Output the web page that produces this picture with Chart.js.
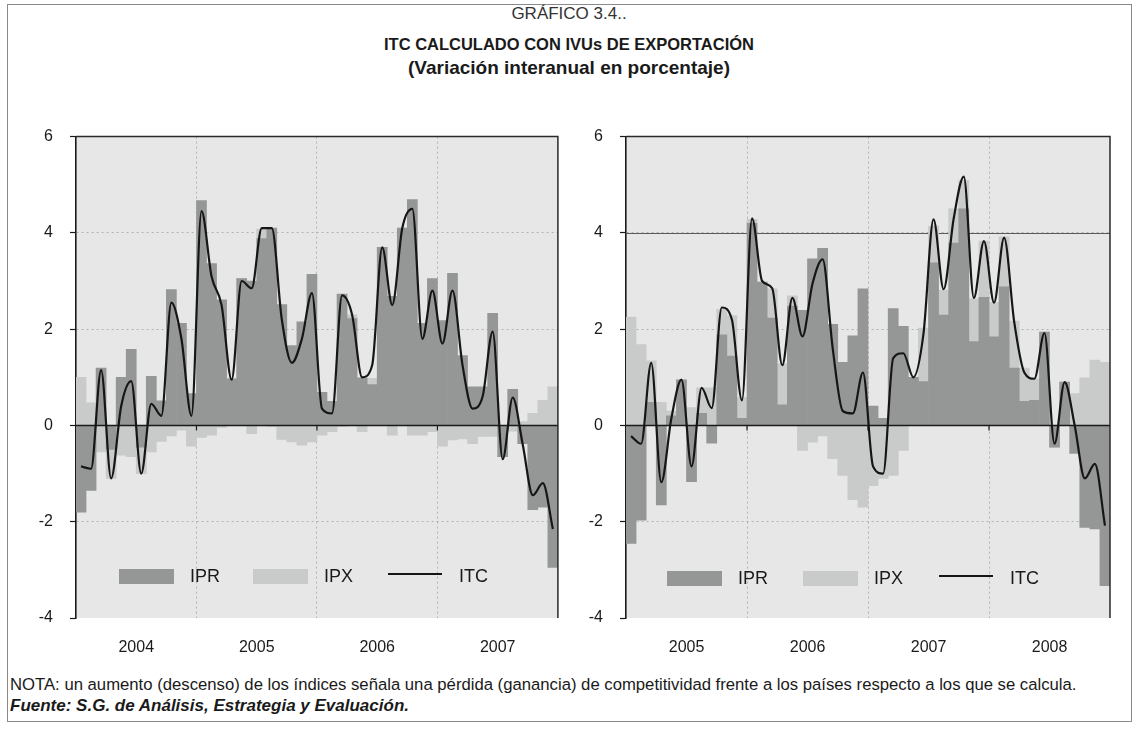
<!DOCTYPE html>
<html>
<head>
<meta charset="utf-8">
<script src="https://cdn.jsdelivr.net/npm/chart.js@4.4.0/dist/chart.umd.min.js"></script>
<style>
  body { margin: 0; background: #fff; font-family: "Liberation Sans", Arial, sans-serif; color: #1a1a1a; }
  #page { position: relative; width: 1138px; height: 751px; overflow: hidden; }
  .frame { position: absolute; left: 7px; top: 4px; width: 1123px; height: 716px; border: 1px solid #8a8a8a; }
  .t { position: absolute; left: 0; width: 1138px; text-align: center; white-space: nowrap; }
  .lg { position: absolute; font-size: 18px; line-height: 18px; }
  .sw { position: absolute; height: 15px; }
  .ln { position: absolute; height: 2px; background: #161616; }
  canvas { position: absolute; }
  .note { position: absolute; left: 10px; white-space: nowrap; }
</style>
</head>
<body>
<div id="page">
  <div class="frame"></div>
  <div class="t" style="top:4px;font-size:17px;color:#333">GRÁFICO 3.4..</div>
  <div class="t" style="top:35px;font-size:16.5px;font-weight:bold;">ITC CALCULADO CON IVUs DE EXPORTACIÓN</div>
  <div class="t" style="top:57px;font-size:19px;font-weight:bold;">(Variación interanual en porcentaje)</div>

  <canvas id="left" width="560" height="556" style="left:13px;top:110px"></canvas>
  <canvas id="right" width="560" height="556" style="left:568px;top:110px"></canvas>

  <!-- legends -->
  <div class="sw" style="left:119px;top:569px;width:55px;background:#959696"></div>
  <div class="lg" style="left:190px;top:567px">IPR</div>
  <div class="sw" style="left:253px;top:569px;width:55px;background:#c9caca"></div>
  <div class="lg" style="left:324px;top:567px">IPX</div>
  <div class="ln" style="left:388px;top:573px;width:54px"></div>
  <div class="lg" style="left:459px;top:567px">ITC</div>

  <div class="sw" style="left:667px;top:571px;width:55px;background:#959696"></div>
  <div class="lg" style="left:738px;top:569px">IPR</div>
  <div class="sw" style="left:803px;top:571px;width:55px;background:#c9caca"></div>
  <div class="lg" style="left:874px;top:569px">IPX</div>
  <div class="ln" style="left:939px;top:575px;width:54px"></div>
  <div class="lg" style="left:1010px;top:569px">ITC</div>

  <div class="note" style="top:675px;font-size:16.7px;">NOTA: un aumento (descenso) de los índices señala una pérdida (ganancia) de competitividad frente a los países respecto a los que se calcula.</div>
  <div class="note" style="top:696px;font-size:17px;font-weight:bold;font-style:italic;">Fuente: S.G. de Análisis, Estrategia y Evaluación.</div>
</div>

<script>
// left panel: monthly, 2004-2007
const leftYears = ['2004', '2005', '2006', '2007'];
const leftIPR = [-1.8, -1.35, 1.19, -0.5, 1.0, 1.58, -0.45, 1.02, 0.51, 2.82, 2.12, 0.66,
                 4.67, 3.36, 2.61, 0.97, 3.05, 3.0, 3.88, 4.1, 2.51, 1.66, 2.15, 3.14,
                 0.69, 0.5, 2.73, 2.22, 0.99, 0.85, 3.7, 2.68, 4.1, 4.69, 2.12, 3.05,
                 2.18, 3.16, 1.45, 0.8, 0.8, 2.33, -0.65, 0.75, -0.38, -1.75, -1.7, -2.95];
const leftIPX = [1.0, 0.47, -0.55, -0.6, -0.62, -0.65, -0.55, -0.55, -0.33, -0.22, -0.1, -0.43,
                 -0.25, -0.2, -0.04, 0, 0, -0.17, 0.2, -0.02, -0.29, -0.34, -0.41, -0.34,
                 -0.2, -0.13, -0.02, 0.08, -0.13, 0.13, 0, -0.2, 0, -0.2, -0.2, -0.13,
                 -0.43, -0.3, -0.28, -0.38, -0.23, -0.23, 0, -0.12, 0.08, 0.25, 0.52, 0.8];
const leftITC = [-0.85, -0.9, 1.15, -1.1, 0.4, 0.92, -1.0, 0.45, 0.2, 2.55, 1.8, 0.2,
                 4.45, 3.1, 2.5, 0.95, 3.0, 2.85, 4.1, 4.1, 2.2, 1.3, 1.8, 2.75,
                 0.35, 0.25, 2.7, 2.3, 1.0, 1.25, 3.7, 2.5, 4.1, 4.5, 1.8, 2.8,
                 1.7, 2.8, 1.25, 0.35, 0.6, 1.95, -0.7, 0.58, -0.4, -1.45, -1.2, -2.15];

// right panel: monthly, 2005-2008
const rightYears = ['2005', '2006', '2007', '2008'];
const rightIPR = [-2.45, -1.97, 0.48, -1.65, 0.2, 0.95, -1.17, 0.25, -0.37, 1.88, 1.44, 0.15,
                  4.2, 2.98, 2.23, 0.43, 2.48, 2.39, 3.46, 3.68, 2.1, 1.31, 1.86, 2.84,
                  0.4, 0.15, 2.43, 2.06, 1.0, 0.91, 3.38, 2.29, 3.79, 4.5, 1.74, 2.66,
                  1.84, 2.88, 1.19, 0.5, 0.52, 1.94, -0.45, 0.9, -0.58, -2.12, -2.15, -3.33];
const rightIPX = [2.25, 1.68, 0.86, 0.48, 0.1, 0, 0.37, 0.53, 0.78, 0.53, 0.84, 0.43,
                  0.08, 0, 0.61, 0.85, 0.21, -0.52, -0.35, -0.22, -0.69, -1.04, -1.54, -1.7,
                  -1.25, -1.1, -1.04, -0.52, 0, 1.11, 0.76, 0.52, 0.71, 0.59, 0.89, 1.17,
                  0.71, 1.04, 0.98, 0.69, 0.45, 0, 0, 0, 0.66, 0.99, 1.36, 1.31];
const rightITC = [-0.22, -0.38, 1.3, -1.18, 0.15, 0.95, -0.85, 0.78, 0.36, 2.45, 2.2, 0.52,
                  4.3, 3.0, 2.85, 1.25, 2.65, 1.85, 2.95, 3.45, 1.6, 0.3, 0.25, 1.1,
                  -0.85, -1.0, 1.4, 1.5, 1.0, 1.9, 4.28, 2.83, 4.3, 5.17, 2.65, 3.83,
                  2.55, 3.9, 2.15, 1.1, 0.97, 1.92, -0.38, 0.9, 0.0, -1.1, -0.8, -2.08];

const monthLabels = years => years.flatMap(y => Array.from({length: 12}, (_, m) => y + '-' + (m + 1)));

const panelPlugin = {
  id: 'panel',
  beforeDraw(chart) {
    const {ctx, chartArea: a} = chart;
    ctx.save();
    ctx.fillStyle = '#e6e7e6';
    ctx.fillRect(a.left, a.top, a.right - a.left, a.bottom - a.top);
    ctx.restore();
  },
  beforeDatasetsDraw(chart, args, opts) {
    if (!opts.solidFour) return;
    const {ctx, chartArea: a, scales: {y}} = chart;
    const py = Math.round(y.getPixelForValue(4)) + 0.5;
    ctx.save();
    ctx.strokeStyle = '#5a5a5a';
    ctx.lineWidth = 1.2;
    ctx.beginPath(); ctx.moveTo(a.left, py); ctx.lineTo(a.right, py); ctx.stroke();
    ctx.restore();
  },
  beforeDatasetDraw(chart, args) {
    if (args.meta.type !== 'line') return;
    const {ctx, chartArea: a, scales: {x, y}} = chart;
    const py = y.getPixelForValue(0);
    ctx.save();
    ctx.strokeStyle = '#1a1a1a';
    ctx.lineWidth = 1.6;
    ctx.beginPath(); ctx.moveTo(a.left, py); ctx.lineTo(a.right, py); ctx.stroke();
    // year ticks on the zero line
    ctx.lineWidth = 1.2;
    [12, 24, 36].forEach(i => {
      const px = (x.getPixelForValue(i - 1) + x.getPixelForValue(i)) / 2;
      ctx.beginPath(); ctx.moveTo(px, py); ctx.lineTo(px, py + 5); ctx.stroke();
    });
    ctx.restore();
  },
  afterDraw(chart) {
    const {ctx, chartArea: a} = chart;
    ctx.save();
    ctx.strokeStyle = '#2a2a2a';
    ctx.lineWidth = 1.5;
    ctx.beginPath();
    ctx.moveTo(a.left, a.top); ctx.lineTo(a.right, a.top); ctx.lineTo(a.right, a.bottom);
    ctx.stroke();
    ctx.restore();
  }
};

function makeChart(id, years, ipr, ipx, itc, axisWidth, padRight, solidFour) {
  return new Chart(document.getElementById(id), {
    type: 'bar',
    data: {
      labels: monthLabels(years),
      datasets: [
        {type: 'line', label: 'ITC', data: itc, borderColor: '#161616', borderWidth: 2.2,
         pointRadius: 0, cubicInterpolationMode: 'monotone', order: 0, stack: 'itc'},
        {label: 'IPR', data: ipr, backgroundColor: '#959696', order: 1, stack: 'bars',
         barPercentage: 1, categoryPercentage: 1},
        {label: 'IPX', data: ipx, backgroundColor: '#c9caca', order: 2, stack: 'bars',
         barPercentage: 1, categoryPercentage: 1}
      ]
    },
    options: {
      responsive: false,
      animation: false,
      devicePixelRatio: 1,
      layout: {padding: {top: 4, right: padRight, left: 0, bottom: 0}},
      plugins: {legend: {display: false}, tooltip: {enabled: false}, panel: {solidFour}},
      scales: {
        x: {
          stacked: true,
          grid: {offset: true, drawTicks: false, lineWidth: 1,
                 color: c => (c.index % 12 === 0 && c.index > 0 && c.index < 48) ? '#b2b2b2' : 'transparent'},
          border: {display: false, dash: [2, 3]},
          ticks: {autoSkip: false, maxRotation: 0, padding: 20, labelOffset: -5,
                  color: '#1a1a1a', font: {family: 'Liberation Sans', size: 16},
                  callback: (v, i) => i % 12 === 6 ? years[Math.floor(i / 12)] : ''},
          afterFit: s => { s.height = 48; }
        },
        y: {
          stacked: true, min: -4, max: 6,
          ticks: {stepSize: 2, padding: 17, color: '#1a1a1a', font: {family: 'Liberation Sans', size: 16}},
          grid: {color: c => [2, 4, -2].includes(c.tick && c.tick.value) ? '#b2b2b2' : 'transparent',
                 tickColor: '#1a1a1a', tickLength: 6, tickWidth: 1.2},
          border: {display: true, color: '#1a1a1a', width: 1.6, dash: [2, 3]},
          afterFit: s => { s.width = axisWidth; }
        }
      }
    },
    plugins: [panelPlugin]
  });
}

makeChart('left', leftYears, leftIPR, leftIPX, leftITC, 63, 11, false);
makeChart('right', rightYears, rightIPR, rightIPX, rightITC, 58, 18, true);
</script>
</body>
</html>
